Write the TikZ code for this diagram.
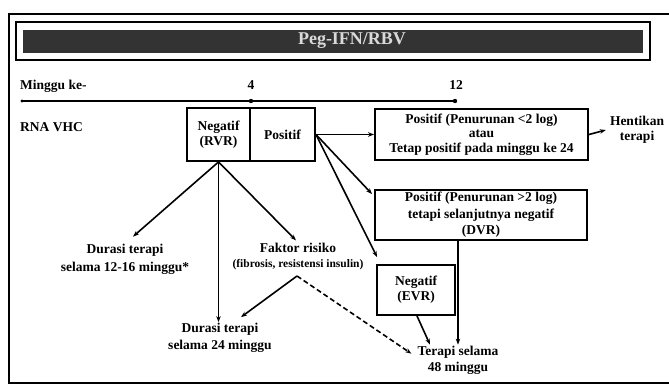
\documentclass[tikz,border=0pt]{standalone}
\usepackage{fontspec}
\setmainfont{Liberation Serif}
\usetikzlibrary{arrows.meta,calc}
\begin{document}
\begin{tikzpicture}[x=1pt,y=-1pt,
  txt/.style={font=\bfseries\fontsize{13.5}{15}\selectfont, align=center, inner sep=1pt},
  bx/.style={txt, draw, line width=1.9pt},
  arr/.style={line width=1.6pt, -{Stealth[length=6pt,width=4.5pt]}},
  frame/.style={line width=1.4pt},
]
\useasboundingbox (0,0) rectangle (669,386);
% frames
\draw[frame] (669,14) -- (9,14) -- (9,383) -- (669,383);
\draw[frame] (16,22) rectangle (650,60);
\node[fill=black!80, minimum width=620pt, minimum height=23pt, inner sep=0pt] (bar) at (333,41) {};
\node[font=\bfseries\fontsize{18}{20}\selectfont, text=white!85!black, inner sep=0pt] (title) at (352,41) {Peg-IFN/RBV};
% timeline
\node[txt, anchor=west] (mg) at (19,86) {Minggu ke-};
\node[txt] (w4) at (251,85) {4};
\node[txt] (w12) at (456,85) {12};
\coordinate (t0) at (22,101);
\coordinate (t4) at (251,101);
\coordinate (t12) at (455,101);
\draw[line width=1.5pt] (t0) -- (t12);
\fill (t0) circle (1.6pt) (t4) circle (2.2pt) (t12) circle (2.2pt);
\node[txt, anchor=west] (rna) at (19,127) {RNA VHC};
% boxes
\node[bx, minimum width=63pt, minimum height=53pt] (neg) at (218.5,134.5) {Negatif\\(RVR)};
\node[bx, minimum width=65pt, minimum height=53pt] (pos) at (282.5,134.5) {Positif};
\node[bx, minimum width=213pt, minimum height=51pt, font=\bfseries\fontsize{13.5}{14.5}\selectfont] (box1) at (481.5,134.5) {Positif (Penurunan <2 log)\\atau\\Tetap positif pada minggu ke 24};
\node[txt] (hent) at (637,130) {Hentikan\\terapi};
\node[bx, minimum width=212pt, minimum height=50pt, font=\bfseries\fontsize{13.5}{16.5}\selectfont] (box2) at (481,215) {Positif (Penurunan >2 log)\\tetapi selanjutnya negatif\\(DVR)};
\node[bx, minimum width=78pt, minimum height=50pt] (evr) at (416,290) {Negatif\\(EVR)};
% outcome texts
\node[txt, font=\bfseries\fontsize{13.5}{18}\selectfont] (dur1) at (125,259) {Durasi terapi\\selama 12-16 minggu*};
\node[txt, font=\bfseries\fontsize{13.5}{15}\selectfont] (fak) at (298,257) {Faktor risiko\\{\fontsize{11.5}{13}\selectfont (fibrosis, resistensi insulin)}};
\node[txt, font=\bfseries\fontsize{13.5}{17}\selectfont] (dur2) at (220,338) {Durasi terapi\\selama 24 minggu};
\node[txt, font=\bfseries\fontsize{13.5}{16}\selectfont] (ter48) at (458,360) {Terapi selama\\48 minggu};
\coordinate (apex) at (297,276);
% connectors
\draw[arr] (pos.east) -- (box1.west);
\draw[arr] (box1.east) -- ([xshift=-3pt]hent.west);
\draw[arr] (pos.east) -- ($(box2.north west)+(-2,5)$);
\draw[arr] (pos.east) -- ($(evr.north west)+(1,-7)$);
\draw[arr] (neg.south) -- ($(dur1.north)+(8,-6)$);
\draw[arr] (neg.south) -- (neg.south |- dur2.north);
\draw[arr] (neg.south) -- ($(fak.north)+(-2,-2)$);
\draw[arr] (apex) -- ($(dur2.north)+(21,-5)$);
\draw[arr, dash pattern=on 5pt off 3pt] (apex) -- ($(ter48.north west)+(-5,9)$);
\draw[arr] (ter48.north |- box2.south) -- (ter48.north);
\draw[arr] ($(evr.south)+(1,0)$) -- ($(ter48.north)+(-28,0)$);
\end{tikzpicture}
\end{document}
